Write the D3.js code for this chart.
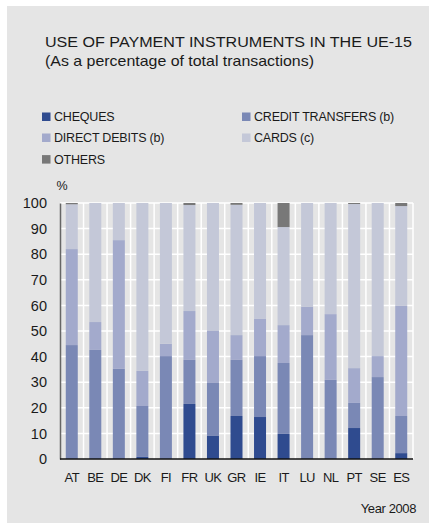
<!DOCTYPE html>
<html>
<head>
<meta charset="utf-8">
<script src="https://cdn.jsdelivr.net/npm/d3@7/dist/d3.min.js"></script>
<style>
  html, body { margin: 0; padding: 0; background: #ffffff; }
  svg { display: block; font-family: "Liberation Sans", Arial, sans-serif; }
</style>
</head>
<body>
<svg id="chart" width="429" height="530"></svg>
<script>
// Payment instrument shares per country, year 2008 (% of total transactions)
const countries = ["AT", "BE", "DE", "DK", "FI", "FR", "UK", "GR", "IE", "IT", "LU", "NL", "PT", "SE", "ES"];
const cheques   = [0, 0, 0, 0.8, 0, 21.5, 9.0, 16.8, 16.4, 9.8, 0, 0, 12.1, 0, 2.3];
const credit    = [44.5, 42.6, 35.2, 19.9, 40.2, 17.2, 20.7, 21.9, 23.8, 27.7, 48.4, 30.9, 9.8, 32.0, 14.5];
const debits    = [37.5, 10.9, 50.3, 13.7, 4.8, 19.1, 20.3, 9.7, 14.5, 14.8, 11.0, 25.7, 13.6, 8.2, 43.0];
const cards     = [17.5, 46.5, 14.5, 65.6, 55.0, 41.4, 50.0, 50.9, 45.3, 38.3, 40.6, 43.4, 64.1, 59.8, 39.0];
const others    = [0.5, 0, 0, 0, 0, 0.8, 0, 0.7, 0, 9.4, 0, 0, 0.4, 0, 1.2];

const seriesKeys   = ["cheques", "credit", "debits", "cards", "others"];
const seriesLabels = ["CHEQUES", "CREDIT TRANSFERS (b)", "DIRECT DEBITS (b)", "CARDS (c)", "OTHERS"];
const seriesColors = ["#2f4b8f", "#7a88b5", "#a3aacc", "#c4c8d8", "#787878"];
const yTicks = [0, 10, 20, 30, 40, 50, 60, 70, 80, 90, 100];

const rows = countries.map((c, i) => ({
  country: c, cheques: cheques[i], credit: credit[i], debits: debits[i], cards: cards[i], others: others[i]
}));

const svg = d3.select("#chart");

// grey panel
svg.append("rect").attr("x", 7).attr("y", 6).attr("width", 422).attr("height", 517).attr("fill", "#e5e5e5");

// titles
svg.append("text").attr("x", 45).attr("y", 46.5)
  .attr("font-size", 15.5).attr("fill", "#1a1a1a")
  .attr("textLength", 367).attr("lengthAdjust", "spacingAndGlyphs")
  .text("USE OF PAYMENT INSTRUMENTS IN THE UE-15");
svg.append("text").attr("x", 45).attr("y", 66)
  .attr("font-size", 15).attr("fill", "#1a1a1a")
  .attr("textLength", 269).attr("lengthAdjust", "spacingAndGlyphs")
  .text("(As a percentage of total transactions)");

// legend
const legendPos = [[42, 116.7], [242, 116.7], [42, 137.7], [242, 137.7], [42, 159.3]];
const legend = svg.append("g");
seriesKeys.forEach((k, i) => {
  const [lx, ly] = legendPos[i];
  legend.append("rect").attr("x", lx).attr("y", ly - 4.2).attr("width", 8.5).attr("height", 8.5)
    .attr("fill", seriesColors[i]);
  legend.append("text").attr("x", lx + 12).attr("y", ly).attr("dy", "0.36em")
    .attr("font-size", 12.5).attr("fill", "#1a1a1a").attr("letter-spacing", -0.2)
    .text(seriesLabels[i]);
});

// plot area
const x0 = 60, x1 = 413, yTop = 203, yBot = 459;
const x = d3.scaleBand().domain(countries).range([x0, x1]).paddingInner(0.49).paddingOuter(0.245);
const y = d3.scaleLinear().domain([0, 100]).range([yBot, yTop]);
const step = (x1 - x0) / countries.length;

// white grid
const grid = svg.append("g");
grid.selectAll("line.h").data(yTicks.filter(t => t > 0)).join("line")
  .attr("x1", x0).attr("x2", x1).attr("y1", d => y(d)).attr("y2", d => y(d))
  .attr("stroke", "#ffffff").attr("stroke-width", 1.5);
grid.selectAll("line.v").data(d3.range(1, countries.length + 1)).join("line")
  .attr("x1", d => x0 + d * step).attr("x2", d => x0 + d * step)
  .attr("y1", yTop).attr("y2", yBot)
  .attr("stroke", "#ffffff").attr("stroke-width", 1.5);

// stacked bars
const stacked = d3.stack().keys(seriesKeys)(rows);
svg.append("g").selectAll("g").data(stacked).join("g")
  .attr("fill", (d, i) => seriesColors[i])
  .selectAll("rect").data(d => d).join("rect")
  .attr("x", d => x(d.data.country))
  .attr("width", x.bandwidth())
  .attr("y", d => y(d[1]))
  .attr("height", d => Math.max(0, y(d[0]) - y(d[1])));

// y axis
const yAxis = svg.append("g").attr("transform", `translate(${x0},0)`)
  .call(d3.axisLeft(y).tickValues(yTicks).tickSize(0).tickPadding(13));
yAxis.select(".domain").attr("stroke", "#666666").attr("stroke-width", 1.5);
yAxis.selectAll("text").attr("font-size", 14.5).attr("fill", "#1a1a1a").attr("font-family", "Liberation Sans, Arial, sans-serif");

svg.append("text").attr("x", 62).attr("y", 186).attr("dy", "0.35em").attr("text-anchor", "middle")
  .attr("font-size", 12.5).attr("fill", "#1a1a1a").text("%");

// x axis
const xAxis = svg.append("g").attr("transform", `translate(0,${yBot})`)
  .call(d3.axisBottom(x).tickSize(0).tickPadding(14));
xAxis.select(".domain").attr("stroke", "#111111").attr("stroke-width", 1.5)
  .attr("d", `M${x0},0H${x1}`);
xAxis.selectAll("text").attr("font-size", 13).attr("fill", "#1a1a1a")
  .attr("letter-spacing", -0.6).attr("font-family", "Liberation Sans, Arial, sans-serif");

svg.append("text").attr("x", 416).attr("y", 508).attr("dy", "0.35em").attr("text-anchor", "end")
  .attr("font-size", 13).attr("fill", "#1a1a1a").attr("letter-spacing", -0.4).text("Year 2008");
</script>
</body>
</html>
